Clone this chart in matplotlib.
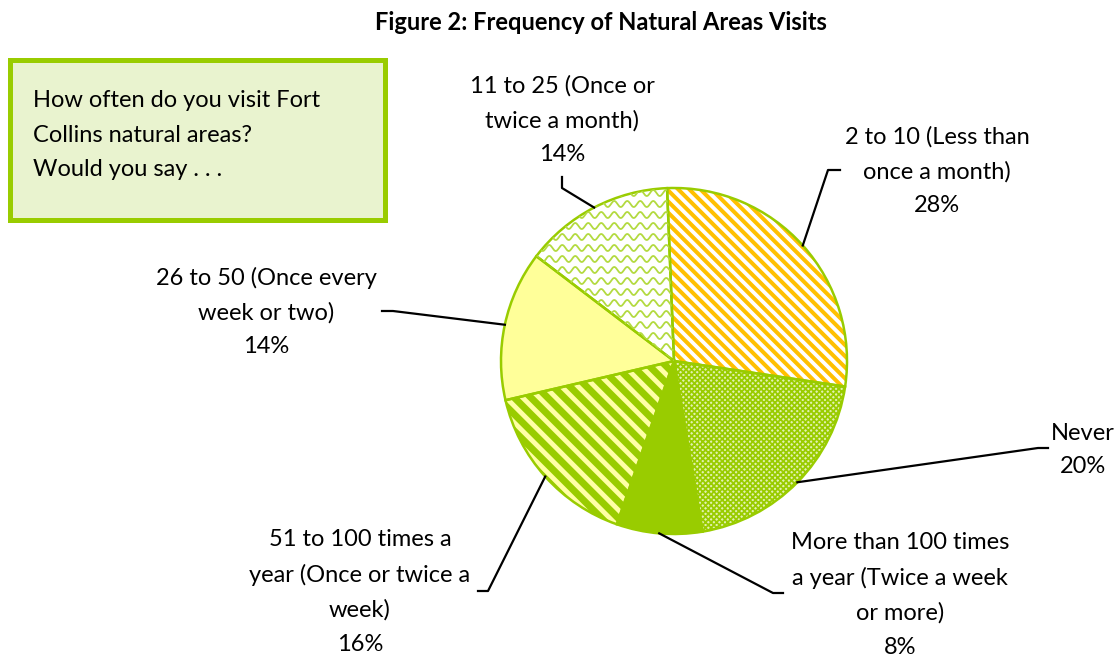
import numpy as np
import matplotlib
matplotlib.use("Agg")
import matplotlib.pyplot as plt
from matplotlib.patches import Rectangle

# data (clockwise from top)
categories = ["2 to 10 (Less than\nonce a month)", "Never",
              "More than 100 times\na year (Twice a week\nor more)",
              "51 to 100 times a\nyear (Once or twice a\nweek)",
              "26 to 50 (Once every\nweek or two)",
              "11 to 25 (Once or\ntwice a month)"]
percents = [28, 20, 8, 16, 14, 14]

face_colors = ["white", "#E2F1B0", "#99CC00", "#FFFFA6", "#FFFF99", "white"]
hatch_colors = ["#FFC000", "#99CC00", "#99CC00", "#99CC00", "#FFFF99", "#99CC00"]
hatches = ["\\\\\\", "xxxxxx", "", "\\\\", "", ""]
hatch_lw = [2.9, 1.3, 1.0, 5.0, 1.0, 1.0]

# layout in pixel units (y measured from the top)
W, H = 1118, 656
cx, cy, R = 674, 361, 173
start = 92.3
text_pos = [(937, 171), (1083, 450), (900, 595), (360, 592), (266, 312), (562, 120)]
elbows = [((840, 170), (828, 170)), ((1048, 448), (1038, 448)),
          ((783, 593), (773, 593)), ((478, 591), (488, 591)),
          ((382, 311), (393, 311)), ((562, 177), (562, 188))]

plt.rcParams['font.family'] = ['Lato', 'DejaVu Sans']
fig = plt.figure(figsize=(W / 100, H / 100), dpi=100)
ax = fig.add_axes([0, 0, 1, 1])

wedges, _ = ax.pie(percents, startangle=start, counterclock=False, center=(cx, H - cy),
                   radius=R, colors=face_colors, wedgeprops=dict(linewidth=0))
for w, hc, ht, lw in zip(wedges, hatch_colors, hatches, hatch_lw):
    w.set_edgecolor(hc)
    w.set_linewidth(0)
    w.set_hatch(ht)
    if hasattr(w, 'set_hatch_linewidth'):
        w.set_hatch_linewidth(lw)

# wavy texture for the "11 to 25" slice
xs = np.linspace(cx - R, cx + R, 600)
for row in np.arange(H - cy - R, H - cy + R, 11):
    ln, = ax.plot(xs, row + 3 * np.sin(xs * 2 * np.pi / 13), color="#B3DA40", lw=1.3)
    ln.set_clip_path(wedges[5])

# outlines
ax.pie(percents, startangle=start, counterclock=False, center=(cx, H - cy), radius=R,
       colors=["none"] * 6, wedgeprops=dict(edgecolor="#99CC00", linewidth=1.8))

# labels with leader lines
cum = np.cumsum([0] + percents)
for i, lab in enumerate(categories):
    mid = np.deg2rad(start - 3.6 * (cum[i] + cum[i + 1]) / 2)
    px, py = cx + R * np.cos(mid), H - cy + R * np.sin(mid)
    (x0, y0), (x1, y1) = elbows[i]
    ax.plot([x0, x1, px], [H - y0, H - y1, py], color="black", lw=1.6)
    tx, ty = text_pos[i]
    ax.text(tx, H - ty, lab + "\n%d%%" % percents[i], ha="center", va="center",
            fontsize=17, linespacing=1.75)

# question box
ax.add_patch(Rectangle((9.5, H - 219.5), 375, 160, facecolor="#E9F3CF",
                       edgecolor="#99CC00", linewidth=3.6))
ax.text(33, H - 135, "How often do you visit Fort\nCollins natural areas?\nWould you say . . .",
        ha="left", va="center", fontsize=17, linespacing=1.82)

ax.text(601, H - 22, "Figure 2: Frequency of Natural Areas Visits", ha="center",
        va="center", fontsize=17, fontweight="bold")

ax.set_xlim(0, W)
ax.set_ylim(0, H)
ax.set_aspect('auto')
ax.axis('off')
fig.savefig("out.png", dpi=100, facecolor="white")
